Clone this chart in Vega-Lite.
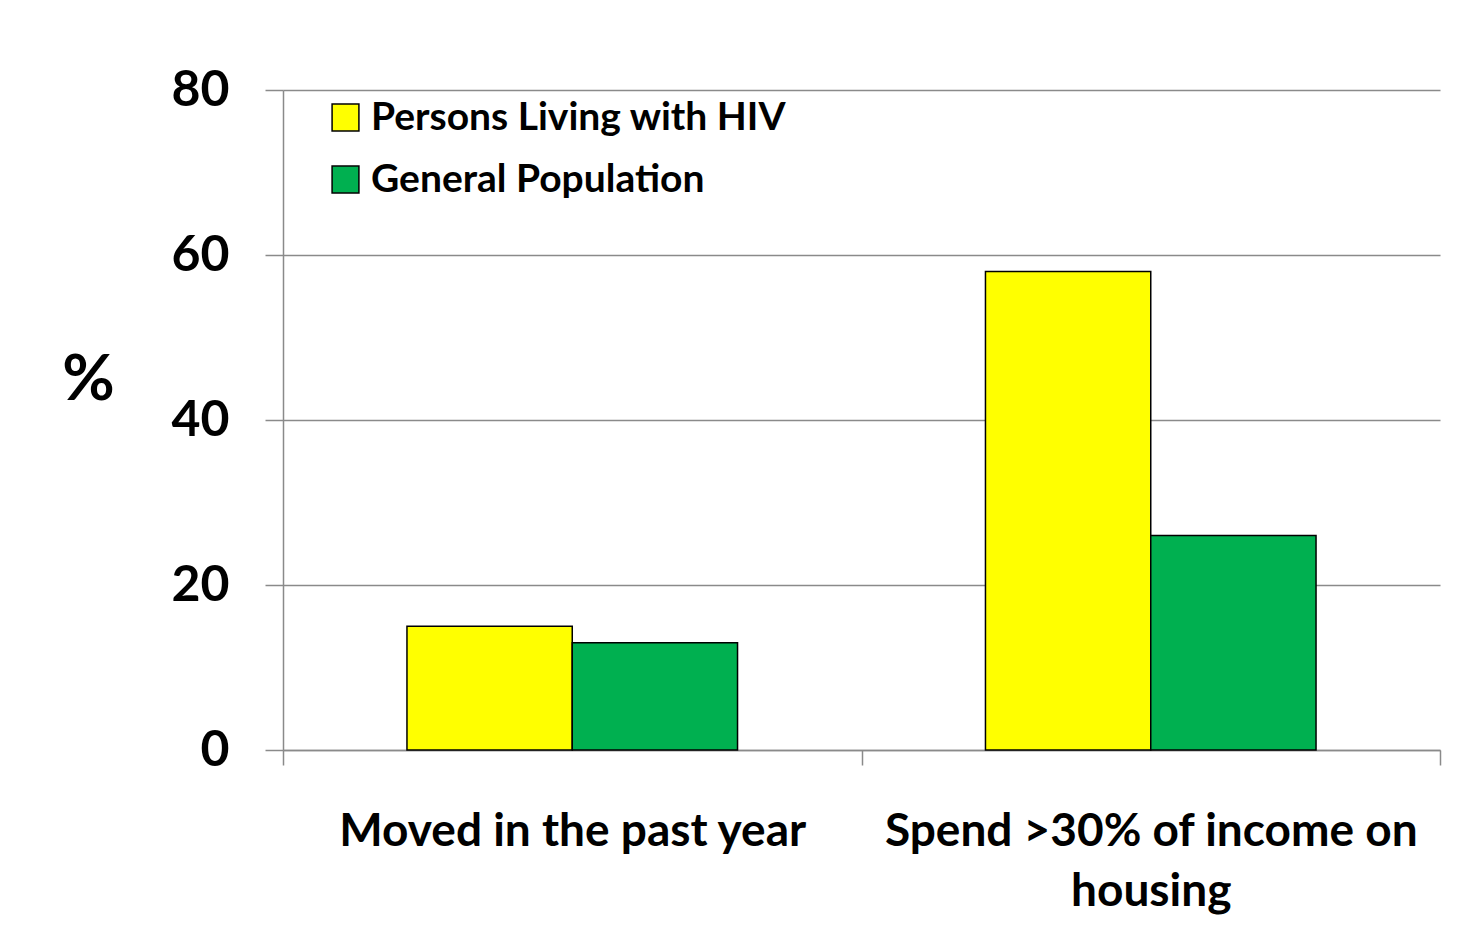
{
  "$schema": "https://vega.github.io/schema/vega-lite/v6.json",
  "autosize": {"type": "none"},
  "width": 1157,
  "height": 660,
  "padding": {"left": 283, "top": 90, "right": 40, "bottom": 180},
  "background": "white",
  "data": {
    "values": [
      {"measure": "Moved in the past year", "group": "Persons Living with HIV", "pct": 15},
      {"measure": "Moved in the past year", "group": "General Population", "pct": 13},
      {"measure": "Spend >30% of income on housing", "group": "Persons Living with HIV", "pct": 58},
      {"measure": "Spend >30% of income on housing", "group": "General Population", "pct": 26}
    ]
  },
  "mark": {"type": "bar", "stroke": "black", "strokeWidth": 1.5},
  "encoding": {
    "x": {
      "field": "measure",
      "type": "nominal",
      "sort": null,
      "scale": {"paddingInner": 0, "paddingOuter": 0},
      "axis": {
        "title": null,
        "labelAngle": 0,
        "labelFont": "Lato",
        "labelFontWeight": "bold",
        "labelFontSize": 46,
        "labelColor": "black",
        "labelLimit": 800,
        "labelPadding": 44,
        "labelLineHeight": 60,
        "labelBaseline": "top",
        "labelExpr": "datum.value == 'Spend >30% of income on housing' ? ['Spend >30% of income on', 'housing'] : datum.label",
        "tickBand": "extent",
        "tickSize": 15,
        "tickColor": "#8a8a8a",
        "tickWidth": 1.5,
        "domainColor": "#8a8a8a",
        "domainWidth": 1.5,
        "grid": false
      }
    },
    "xOffset": {
      "field": "group",
      "type": "nominal",
      "sort": ["Persons Living with HIV", "General Population"],
      "scale": {"paddingInner": 0, "paddingOuter": 0.75}
    },
    "y": {
      "field": "pct",
      "type": "quantitative",
      "scale": {"domain": [0, 80]},
      "axis": {
        "values": [0, 20, 40, 60, 80],
        "title": "%",
        "titleAngle": 0,
        "titleFont": "Lato",
        "titleFontWeight": "bold",
        "titleFontSize": 64,
        "titleColor": "black",
        "titleX": -195,
        "titleY": 290,
        "titleAlign": "center",
        "titleBaseline": "middle",
        "labelFont": "Lato",
        "labelFontWeight": "bold",
        "labelFontSize": 50,
        "labelColor": "black",
        "labelPadding": 36,
        "tickSize": 18,
        "tickColor": "#8a8a8a",
        "tickWidth": 1.5,
        "domainColor": "#8a8a8a",
        "domainWidth": 1.5,
        "grid": true,
        "gridColor": "#8a8a8a",
        "gridWidth": 1.5
      }
    },
    "fill": {
      "field": "group",
      "type": "nominal",
      "sort": ["Persons Living with HIV", "General Population"],
      "scale": {"domain": ["Persons Living with HIV", "General Population"], "range": ["#ffff00", "#00b050"]},
      "legend": {
        "title": null,
        "orient": "none",
        "legendX": 43,
        "legendY": 8,
        "symbolType": "square",
        "symbolSize": 720,
        "symbolStrokeColor": "black",
        "symbolStrokeWidth": 1.5,
        "labelFont": "Lato",
        "labelFontWeight": "bold",
        "labelFontSize": 39,
        "labelColor": "black",
        "labelOffset": 6,
        "labelLimit": 600,
        "rowPadding": 22
      }
    }
  },
  "config": {
    "view": {"stroke": null},
    "axis": {"labelOverlap": false}
  }
}
